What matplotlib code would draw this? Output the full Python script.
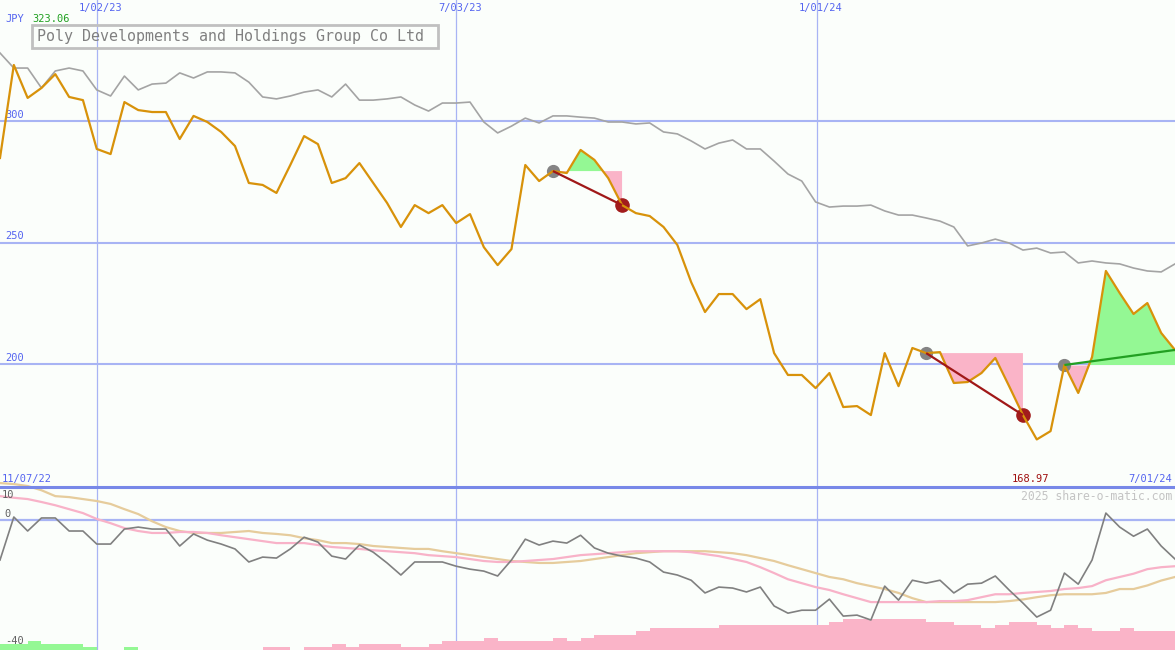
import numpy as np
import matplotlib.pyplot as plt
from matplotlib.patches import Rectangle

# weekly closes, JPY (first point = 11/07/22, last = 7/01/24)
price = [284.8, 323.06, 309.5, 313.6, 319.3, 309.9, 308.6, 288.5, 286.4, 307.8,
         304.5, 303.7, 303.7, 292.6, 302.1, 299.6, 295.5, 289.7, 274.5, 273.7,
         270.4, 281.9, 293.8, 290.5, 274.5, 276.5, 282.7, 274.5, 266.3, 256.4,
         265.4, 262.1, 265.4, 258.0, 261.7, 248.1, 240.7, 247.3, 281.9, 275.3,
         279.4, 278.6, 288.1, 284.0, 276.5, 265.4, 262.1, 260.9, 256.4, 249.0,
         233.7, 221.4, 228.8, 228.8, 222.6, 226.7, 204.5, 195.5, 195.5, 190.1,
         196.3, 182.3, 182.7, 179.0, 204.5, 190.9, 206.6, 204.5, 204.9, 192.2,
         192.6, 196.3, 202.5, 190.9, 179.0, 168.97, 172.4, 199.6, 188.1, 202.9,
         238.3, 229.2, 220.6, 225.1, 212.8, 205.8]

# market index, rebased to the price scale
index_line = [328.0, 321.8, 321.8, 313.6, 320.6, 321.8, 320.6, 312.8, 310.3, 318.5,
              312.8, 315.2, 315.6, 319.8, 317.7, 320.2, 320.2, 319.8, 316.0, 309.9,
              309.1, 310.3, 311.9, 312.8, 309.9, 315.2, 308.6, 308.6, 309.1, 309.9,
              306.6, 304.1, 307.4, 307.4, 307.8, 299.6, 295.1, 297.9, 301.2, 299.2,
              302.1, 302.1, 301.6, 301.2, 299.6, 299.6, 298.8, 299.2, 295.5, 294.7,
              291.8, 288.5, 290.9, 292.2, 288.5, 288.5, 283.5, 278.2, 275.3, 266.7,
              264.6, 265.0, 265.0, 265.4, 263.0, 261.3, 261.3, 260.1, 258.8, 256.4,
              248.6, 249.8, 251.4, 249.8, 246.9, 247.7, 245.7, 246.1, 241.6, 242.4,
              241.6, 241.2, 239.5, 238.3, 237.9, 241.2]

# lower panel: momentum and its two averages
mom = [-12.4, 0.8, -3.5, 0.5, 0.5, -3.5, -3.5, -7.5, -7.5, -2.9,
       -2.3, -2.9, -2.9, -8.1, -4.4, -6.3, -7.5, -9.0, -13.0, -11.5,
       -11.8, -9.0, -5.4, -6.9, -11.2, -12.1, -7.8, -10.0, -13.3, -17.0,
       -13.0, -13.0, -13.0, -14.3, -15.2, -15.8, -17.3, -12.4, -6.0, -7.8,
       -6.6, -7.2, -4.8, -8.7, -10.3, -11.2, -11.8, -13.0, -16.1, -17.0,
       -18.6, -22.5, -20.7, -21.0, -22.2, -20.7, -26.5, -28.7, -27.8, -27.8,
       -24.4, -29.6, -29.3, -30.8, -20.4, -24.7, -18.6, -19.5, -18.6, -22.5,
       -19.8, -19.5, -17.3, -21.6, -25.6, -29.9, -27.8, -16.4, -19.8, -12.4,
       2.0, -2.3, -5.1, -2.9, -8.1, -12.1]

mom_fast = [7.2, 6.7, 6.3, 5.4, 4.4, 3.2, 2.0, 0.2, -1.1, -2.6,
            -3.5, -4.1, -4.1, -3.8, -3.8, -4.1, -4.8, -5.4, -6.0, -6.6,
            -7.2, -7.2, -7.2, -7.8, -8.4, -8.7, -9.0, -9.4, -9.7, -10.0,
            -10.3, -10.9, -11.2, -11.5, -12.1, -12.7, -13.0, -13.0, -12.7, -12.4,
            -12.1, -11.5, -10.9, -10.6, -10.3, -10.0, -9.7, -9.7, -9.7, -9.7,
            -10.0, -10.6, -11.2, -12.1, -13.0, -14.6, -16.4, -18.3, -19.5, -20.7,
            -21.6, -22.9, -24.1, -25.3, -25.3, -25.3, -25.3, -25.3, -25.0, -25.0,
            -24.7, -23.8, -22.9, -22.9, -22.5, -22.2, -21.9, -21.3, -21.0, -20.4,
            -18.6, -17.6, -16.6, -15.2, -14.6, -14.3]

mom_slow = [11.2, 10.9, 10.3, 9.0, 7.2, 6.9, 6.3, 5.7, 4.8, 3.2,
            1.7, -0.5, -2.3, -3.5, -4.1, -4.1, -4.1, -3.8, -3.5, -4.1,
            -4.4, -4.8, -5.7, -6.3, -7.2, -7.2, -7.5, -8.1, -8.4, -8.7,
            -9.0, -9.0, -9.7, -10.3, -10.9, -11.5, -12.1, -12.7, -13.0, -13.3,
            -13.3, -13.0, -12.7, -12.1, -11.5, -10.9, -10.3, -10.0, -9.7, -9.7,
            -9.7, -9.7, -10.0, -10.3, -10.9, -11.8, -12.7, -14.0, -15.2, -16.4,
            -17.6, -18.3, -19.5, -20.4, -21.3, -22.5, -24.1, -25.3, -25.3, -25.3,
            -25.3, -25.3, -25.3, -25.0, -24.5, -23.8, -23.2, -22.9, -22.9, -22.9,
            -22.5, -21.3, -21.3, -20.2, -18.7, -17.6]

# weekly bars along the bottom (+ green, - pink)
bars = [1.8, 1.8, 2.8, 1.8, 1.8, 1.8, 0.8, 0, 0, 0.8,
        0, 0, 0, 0, 0, 0, 0, 0, 0, -0.8,
        -0.8, 0, -0.8, -0.8, -1.8, -0.8, -1.8, -1.8, -1.8, -0.8,
        -0.8, -1.8, -2.8, -2.8, -2.8, -3.7, -2.8, -2.8, -2.8, -2.8,
        -3.7, -2.8, -3.7, -4.6, -4.6, -4.6, -5.8, -6.7, -6.7, -6.7,
        -6.7, -6.7, -7.7, -7.7, -7.7, -7.7, -7.7, -7.7, -7.7, -7.7,
        -8.6, -9.5, -9.5, -9.5, -9.5, -9.5, -9.5, -8.6, -8.6, -7.7,
        -7.7, -6.7, -7.7, -8.6, -8.6, -7.7, -6.7, -7.7, -6.7, -5.8,
        -5.8, -6.7, -5.8, -5.8, -5.8]

# trades: (entry week, exit week); last one still open
trades = [(40, 45), (67, 74), (77, 85)]

date_ticks = [7, 33, 59.1]
date_labels = ['1/02/23', '7/03/23', '1/01/24']
price_ticks = [300, 250, 200]
title = 'Poly Developments and Holdings Group Co Ltd'

BG = '#fbfefb'
GRID = '#a8b4f4'
BLUE = '#5464f0'
ORANGE = '#d8920a'
GREEN_FILL = '#94f894'
PINK_FILL = '#fab4c8'
MONO = 'DejaVu Sans Mono'

W, H = 1175, 650
fig = plt.figure(figsize=(W / 100, H / 100), dpi=100, facecolor=BG)
x = np.arange(len(price))
n = len(price) - 1

# ---------------- main price panel ----------------
ax = fig.add_axes([0, 163 / H, 1, 487 / H])
ax.set_facecolor(BG)
ax.set_xlim(0, n)
ax.set_ylim(149.4, 349.8)
ax.axis('off')

for v in price_ticks:
    ax.axhline(v, color=GRID, lw=1.5, zorder=0)
    ax.text(0.35, v + 0.5, str(v), color=BLUE, fontsize=7.5, family=MONO,
            va='bottom', ha='left')
for t in date_ticks:
    ax.axvline(t, color=GRID, lw=0.9, zorder=0)

ax.plot(x, index_line, color='#a4a4a4', lw=1.2, zorder=1)

pr = np.array(price)
for a, b in trades:
    xs = x[a:b + 1]
    ys = pr[a:b + 1]
    entry = pr[a]
    ax.fill_between(xs, ys, entry, where=ys >= entry, interpolate=True,
                    color=GREEN_FILL, lw=0, zorder=1.5)
    ax.fill_between(xs, ys, entry, where=ys <= entry, interpolate=True,
                    color=PINK_FILL, lw=0, zorder=1.5)
    is_open = b == n
    ax.plot([a], [entry], 'o', color='#848484', ms=8.5, zorder=2)
    if not is_open:
        ax.plot([b], [pr[b]], 'o', color='#a21c1c', ms=9.5, zorder=2)
    ax.plot([a, b], [entry, pr[b]], color='#22a022' if is_open else '#a01818',
            lw=1.6, zorder=4, solid_capstyle='butt')

ax.plot(x, price, color=ORANGE, lw=1.6, zorder=3)

# ---------------- lower momentum panel ----------------
ax2 = fig.add_axes([0, 0, 1, 163 / H])
ax2.set_facecolor(BG)
ax2.set_xlim(0, n)
ax2.set_ylim(-40, 10)
ax2.axis('off')

ax2.axhline(0, color=GRID, lw=1.6, zorder=0)
for t in date_ticks:
    ax2.axvline(t, color=GRID, lw=0.9, zorder=0)

bv = np.array(bars)
bcol = [GREEN_FILL if v > 0 else PINK_FILL for v in bv]
ax2.bar(np.arange(len(bv)) + 0.5, np.abs(bv), width=1.0, bottom=-40,
        color=bcol, lw=0, zorder=1)

ax2.plot(x, mom_slow, color='#e6cc9c', lw=1.6, zorder=2, clip_on=False)
ax2.plot(x, mom_fast, color='#f8b2c8', lw=1.6, zorder=2)
ax2.plot(x, mom, color='#808080', lw=1.2, zorder=3)
ax2.axhline(10, color='#7888e8', lw=2.2, zorder=4, clip_on=False)

ax2.text(0.15, 7.4, '10', color='#606060', fontsize=7.5, family=MONO, va='center')
ax2.text(0.35, 1.6, '0', color='#606060', fontsize=7.5, family=MONO, va='center')
ax2.text(0.35, -37.3, '-40', color='#606060', fontsize=7.5, family=MONO, va='center')


# ---------------- texts placed in pixel terms ----------------
def ftxt(px, py, s, **kw):
    fig.text(px / W, 1 - py / H, s, family=MONO, **kw)


for t, lab in zip(date_ticks, date_labels):
    ftxt(t * W / n + 4, 8, lab, color=BLUE, fontsize=7.5, ha='center', va='center')

ftxt(5, 19, 'JPY', color=BLUE, fontsize=7.5, va='center')
ftxt(32, 19, '%.2f' % max(price), color='#20a020', fontsize=7.5, va='center')

fig.patches.append(Rectangle((32 / W, 1 - 48 / H), 406 / W, 23 / H,
                             transform=fig.transFigure, fill=False,
                             edgecolor='#c0c0c0', lw=2))
ftxt(37, 36.5, title, color='#808080', fontsize=10.8, va='center')

ftxt(2, 479, '11/07/22', color=BLUE, fontsize=7.5, va='center')
ftxt(1172, 479, '7/01/24', color=BLUE, fontsize=7.5, va='center', ha='right')
ftxt(1030, 479, '%.2f' % min(price), color='#a01010', fontsize=7.5,
     va='center', ha='center')
ftxt(1172, 496, '2025 share-o-matic.com', color='#c4c4c4', fontsize=8.3,
     va='center', ha='right')

fig.savefig('out.png', dpi=100, facecolor=BG)
